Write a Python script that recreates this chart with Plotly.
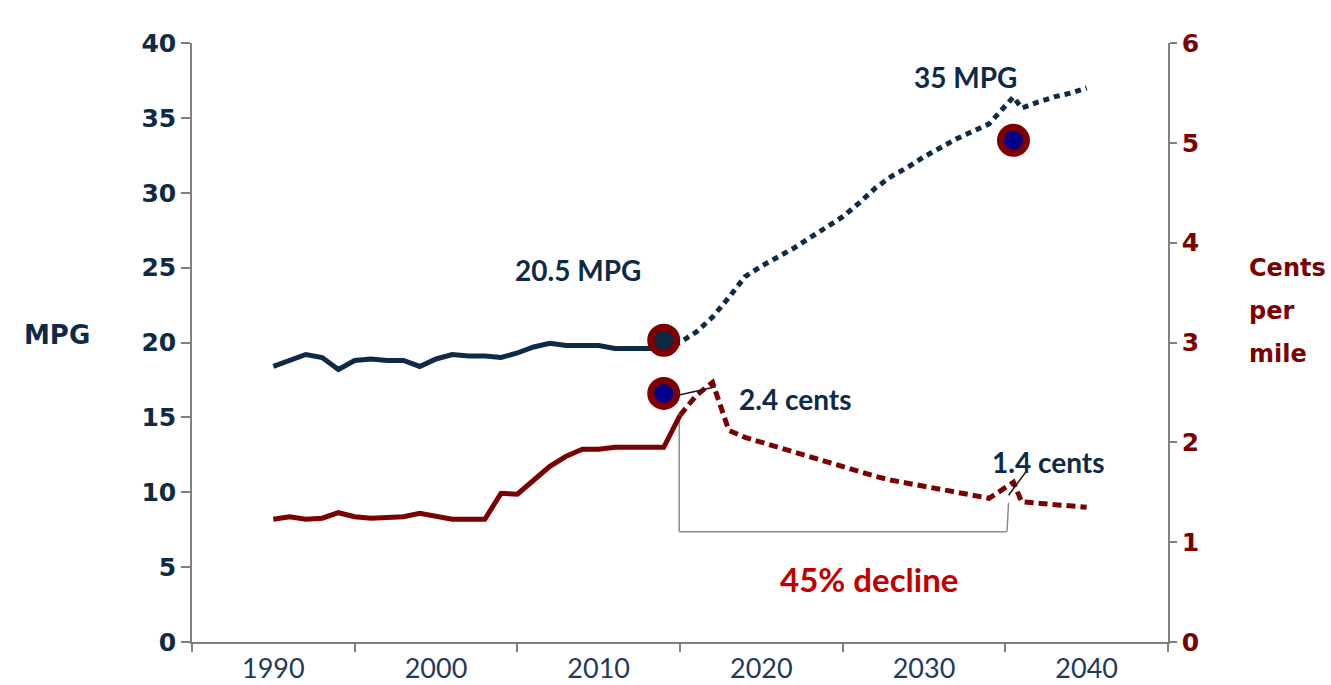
import plotly.graph_objects as go

# ---------------- data ----------------
hist_years = list(range(1990, 2015))
mpg_hist = [18.4, 18.8, 19.2, 19.0, 18.2, 18.8, 18.9, 18.8, 18.8, 18.4,
            18.9, 19.2, 19.1, 19.1, 19.0, 19.3, 19.7, 19.95, 19.8, 19.8,
            19.8, 19.6, 19.6, 19.6, 19.6]

proj_years_mpg = list(range(2014, 2035)) + [2035.5] + list(range(2036, 2041))
mpg_proj = [19.6, 20.0, 20.7, 21.7, 23.0, 24.4, 25.1, 25.7, 26.3, 27.0,
            27.7, 28.4, 29.3, 30.3, 31.1, 31.7, 32.4, 33.0, 33.6, 34.1,
            34.6, 36.4, 35.65, 36.05, 36.4, 36.65, 37.0]

cost_hist_years = list(range(1990, 2016))
cents_hist = [1.23, 1.255, 1.23, 1.24, 1.295, 1.255, 1.24, 1.25, 1.255, 1.29,
              1.255, 1.23, 1.23, 1.23, 1.49, 1.48, 1.62, 1.76, 1.86, 1.93,
              1.93, 1.95, 1.95, 1.95, 1.95, 2.27]

proj_years_cost = list(range(2015, 2035)) + [2035.5] + list(range(2036, 2041))
cents_proj = [2.27, 2.47, 2.60, 2.12, 2.05, 2.00, 1.95, 1.90, 1.85, 1.80,
              1.76, 1.71, 1.66, 1.62, 1.59, 1.55, 1.52, 1.49, 1.46, 1.44,
              1.60, 1.405, 1.39, 1.38, 1.37, 1.35]

# highlighted points
mpg_marker_years = [2014, 2035.5]
mpg_marker_values = [20.15, 33.5]
mpg_marker_fills = ["#0e2841", "#00008b"]
cost_marker_years = [2014]
cost_marker_values = [2.49]

x_label_years = [1990, 2000, 2010, 2020, 2030, 2040]
x_label_text = ["1990", "2000", "2010", "2020", "2030", "2040"]
left_ticks = [0, 5, 10, 15, 20, 25, 30, 35, 40]
right_ticks = [0, 1, 2, 3, 4, 5, 6]
right_title_lines = ["Cents", "per", "mile"]

# ---------------- style ----------------
NAVY = "#0f2a46"
MAROON = "#7b0000"
RING = "#800000"
AXIS_GREY = "#7f7f7f"
XLAB = "#1f3b5c"
BIG = "DejaVu Sans, Verdana, sans-serif"
ANN = "Lato, Open Sans, sans-serif"

fig = go.Figure()

fig.add_trace(go.Scatter(x=hist_years, y=mpg_hist, mode="lines",
                         line=dict(color=NAVY, width=5), yaxis="y",
                         showlegend=False, hoverinfo="skip"))
fig.add_trace(go.Scatter(x=proj_years_mpg, y=mpg_proj, mode="lines",
                         line=dict(color=NAVY, width=5, dash="6px,5px"),
                         yaxis="y", showlegend=False, hoverinfo="skip"))
fig.add_trace(go.Scatter(x=cost_hist_years, y=cents_hist, mode="lines",
                         line=dict(color=MAROON, width=5), yaxis="y2",
                         showlegend=False, hoverinfo="skip"))
fig.add_trace(go.Scatter(x=proj_years_cost, y=cents_proj, mode="lines",
                         line=dict(color=MAROON, width=5, dash="9px,5px"),
                         yaxis="y2", showlegend=False, hoverinfo="skip"))

fig.add_trace(go.Scatter(x=mpg_marker_years, y=mpg_marker_values, mode="markers",
                         marker=dict(size=26, color=mpg_marker_fills,
                                     line=dict(color=RING, width=7)),
                         yaxis="y", showlegend=False, hoverinfo="skip"))
fig.add_trace(go.Scatter(x=cost_marker_years, y=cost_marker_values, mode="markers",
                         marker=dict(size=26, color="#00008b",
                                     line=dict(color=RING, width=7)),
                         yaxis="y2", showlegend=False, hoverinfo="skip"))

# bracket and pointer lines
grey_line = dict(color="#8c8c8c", width=1.5)
black_line = dict(color="#1a1a1a", width=1.5)
shapes = [
    dict(type="line", xref="x", yref="y", x0=2014.95, x1=2014.95, y0=14.8, y1=7.37, line=grey_line, layer="below"),
    dict(type="line", xref="x", yref="y", x0=2014.95, x1=2035.1, y0=7.37, y1=7.37, line=grey_line, layer="below"),
    dict(type="line", xref="x", yref="y", x0=2035.1, x1=2035.2, y0=7.37, y1=9.3, line=grey_line, layer="below"),
    dict(type="line", xref="x", yref="y", x0=2035.2, x1=2036.36, y0=9.8, y1=11.5, line=black_line),
    dict(type="line", xref="x", yref="y", x0=2014.95, x1=2017.2, y0=16.5, y1=17.05, line=black_line),
]

ann_font = dict(family=ANN, size=28, color=NAVY, weight="bold")
annotations = [
    dict(text="20.5 MPG", x=2008.7, y=24.84, xref="x", yref="y", showarrow=False, font=ann_font),
    dict(text="35 MPG", x=2032.55, y=37.75, xref="x", yref="y", showarrow=False, font=ann_font),
    dict(text="2.4 cents", x=2022.07, y=16.23, xref="x", yref="y", showarrow=False, font=ann_font),
    dict(text="1.4 cents", x=2037.6, y=12.04, xref="x", yref="y", showarrow=False, font=ann_font),
    dict(text="45% decline", x=2026.6, y=4.21, xref="x", yref="y", showarrow=False,
         font=dict(family=ANN, size=33, color="#c00000", weight="bold")),
    dict(text="MPG", x=-0.138, y=0.5125, xref="paper", yref="paper", showarrow=False,
         xanchor="center", yanchor="middle",
         font=dict(family=BIG, size=26, color=NAVY, weight="bold")),
]
for line_text, ypos in zip(right_title_lines, [0.6244, 0.5526, 0.4808]):
    annotations.append(dict(text=line_text, x=1.081, y=ypos, xref="paper", yref="paper",
                            showarrow=False, xanchor="left", yanchor="middle",
                            font=dict(family=BIG, size=24, color=MAROON, weight="bold")))

fig.update_layout(
    width=1331, height=685, autosize=False,
    margin=dict(l=192, r=163, t=43, b=43, pad=0),
    paper_bgcolor="white", plot_bgcolor="white",
    shapes=shapes, annotations=annotations,
    xaxis=dict(range=[1985, 2045], tickmode="array", tickvals=x_label_years,
               ticktext=x_label_text, ticks="", showgrid=False, zeroline=False,
               showline=True, linecolor=AXIS_GREY, linewidth=1.5, automargin=False,
               tickfont=dict(family=ANN, size=27, color=XLAB),
               ticklabelstandoff=2,
               minor=dict(tick0=1985, dtick=10, ticks="outside", ticklen=8,
                          tickcolor=AXIS_GREY, tickwidth=1.5, showgrid=False)),
    yaxis=dict(range=[0, 40], tickmode="array", tickvals=left_ticks,
               ticks="outside", ticklen=9, tickcolor=AXIS_GREY, tickwidth=1.5,
               showgrid=False, zeroline=False, showline=True, automargin=False,
               linecolor=AXIS_GREY, linewidth=1.5,
               tickfont=dict(family=BIG, size=25, color=NAVY, weight="bold")),
    yaxis2=dict(range=[0, 6], tickmode="array", tickvals=right_ticks,
                overlaying="y", side="right", anchor="x", automargin=False,
                ticks="outside", ticklen=7, tickcolor=AXIS_GREY, tickwidth=1.5,
                showgrid=False, zeroline=False, showline=True,
                linecolor=AXIS_GREY, linewidth=1.5,
                tickfont=dict(family=BIG, size=25, color=MAROON, weight="bold")),
)

fig.write_html("out.html", config={"displayModeBar": False},
               post_script="document.body.style.margin='0';")
